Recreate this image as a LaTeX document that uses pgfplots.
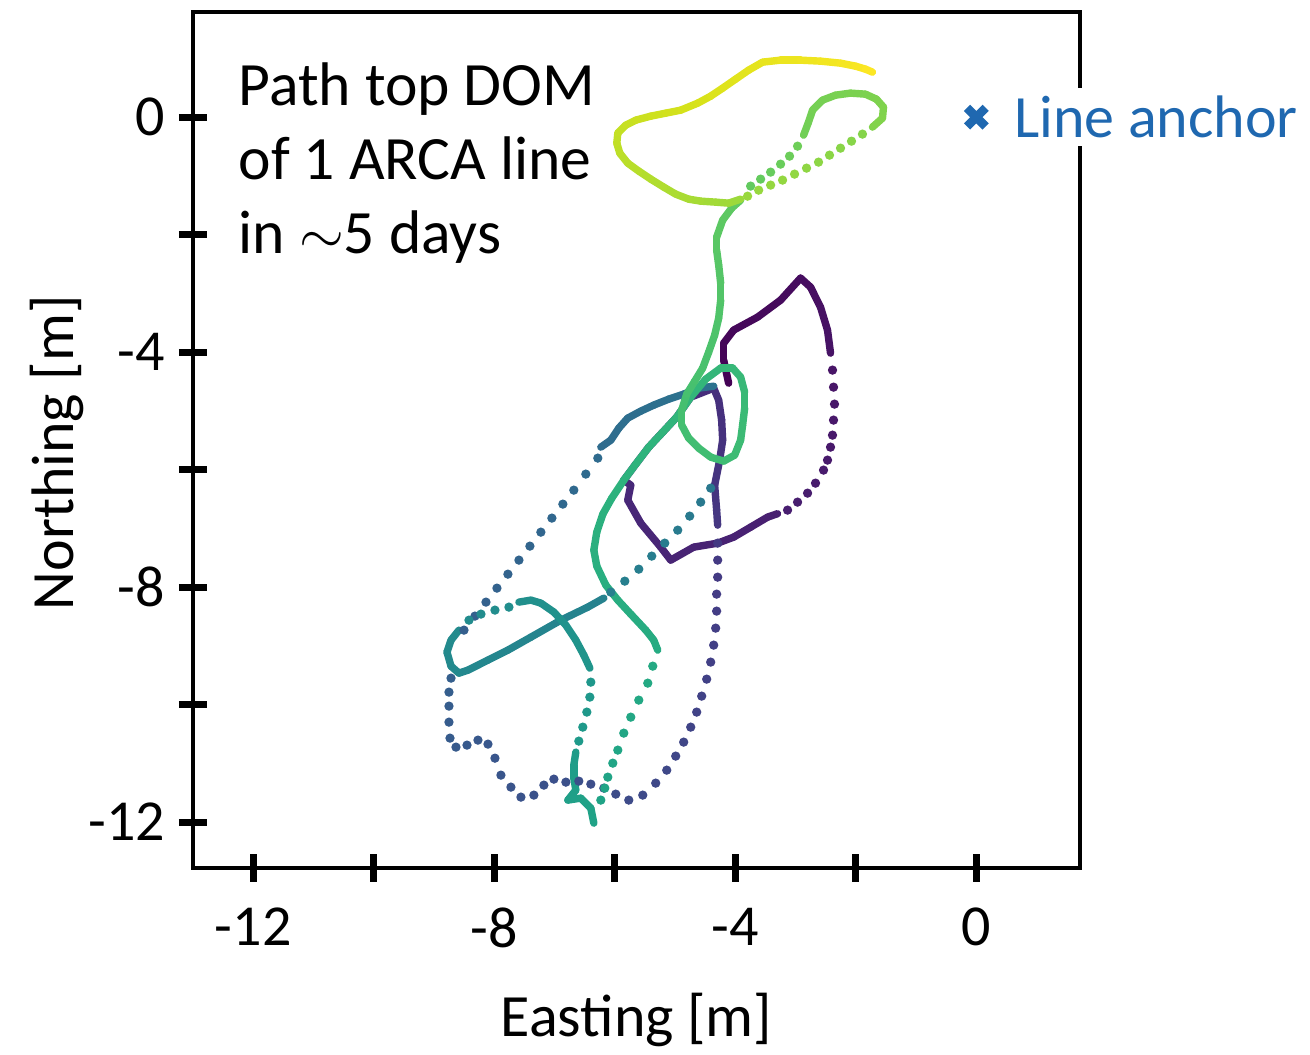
\documentclass[border=0pt]{standalone}
\usepackage{fontspec}
\setmainfont{Carlito}
\usepackage{pgfplots}
\pgfplotsset{compat=1.18}
\definecolor{ancblue}{RGB}{31,104,176}
\pgfplotsset{
  solidseg/.style={mesh, point meta=explicit, line width=1.85pt, line cap=round, line join=round, no markers},
  dotseg/.style={scatter, only marks, mark=*, mark size=0.95pt, point meta=explicit,
    scatter/use mapped color={draw=mapped color, fill=mapped color}},
}
\begin{document}
\begin{tikzpicture}
\begin{axis}[
  width=221.75pt, height=214pt, scale only axis,
  xmin=-13, xmax=1.72, ymin=-12.78, ymax=1.79,
  clip=false,
  colormap/viridis, point meta min=0, point meta max=1,
  axis line style={line width=1pt},
  tick pos=left, tick align=center, major tick length=7pt,
  tick style={line width=1.7pt, black},
  xtick={-12,-10,...,0}, xticklabels={-12,,-8,,-4,,0},
  ytick={-12,-10,...,0}, yticklabels={-12,,-8,,-4,,0},
  font=\fontsize{15}{18}\selectfont,
  tick label style={font=\fontsize{14.5}{17}\selectfont},
  xticklabel style={yshift=-3pt},
  xlabel={Easting [m]}, ylabel={Northing [m]},
  xlabel style={at={(axis description cs:0.5,-0.1776)}, anchor=center},
  ylabel style={at={(axis description cs:-0.1533,0.485)}, anchor=center},
]
% purple loop
\addplot[solidseg] table[meta=c] {
x y c
-4.111 -4.528 0.000
-4.193 -4.136 0.005
-4.193 -3.847 0.010
-4.028 -3.625 0.015
-3.630 -3.404 0.020
-3.249 -3.115 0.025
-2.917 -2.740 0.030
-2.751 -2.894 0.035
-2.586 -3.234 0.040
-2.470 -3.625 0.045
-2.420 -4.017 0.050
};
\addplot[dotseg] table[meta=c] {
x y c
-2.387 -4.306 0.053
-2.370 -4.596 0.056
-2.354 -4.885 0.058
-2.370 -5.157 0.061
-2.387 -5.413 0.064
-2.420 -5.617 0.066
-2.470 -5.838 0.069
-2.536 -6.008 0.072
-2.669 -6.230 0.074
-2.801 -6.400 0.077
-2.967 -6.553 0.079
-3.133 -6.689 0.082
};
\addplot[solidseg] table[meta=c] {
x y c
-3.300 -6.750 0.084
-3.464 -6.808 0.085
-3.746 -6.979 0.088
-4.028 -7.149 0.091
-4.293 -7.251 0.094
-4.691 -7.319 0.097
-5.072 -7.540 0.100
-5.238 -7.319 0.103
-5.569 -6.911 0.106
-5.785 -6.519 0.109
-5.735 -6.264 0.112
-5.851 -6.179 0.114
-5.652 -5.906 0.117
-5.437 -5.617 0.120
-5.205 -5.362 0.122
-4.973 -5.106 0.124
-4.740 -4.766 0.126
-4.359 -4.613 0.128
};
% down the east side, round the southern loop
\addplot[solidseg] table[meta=c] {
x y c
-4.359 -4.613 0.130
-4.276 -4.817 0.134
-4.227 -5.157 0.138
-4.210 -5.498 0.142
-4.260 -5.838 0.146
-4.343 -6.264 0.150
-4.310 -6.689 0.155
-4.293 -6.945 0.160
};
\addplot[dotseg] table[meta=c] {
x y c
-4.293 -7.251 0.165
-4.293 -7.540 0.168
-4.293 -7.830 0.172
-4.310 -8.119 0.175
-4.310 -8.408 0.179
-4.326 -8.698 0.182
-4.359 -8.987 0.186
-4.409 -9.276 0.189
-4.475 -9.566 0.193
-4.558 -9.855 0.196
-4.641 -10.127 0.200
-4.740 -10.383 0.203
-4.857 -10.638 0.207
-4.989 -10.876 0.210
-5.138 -11.115 0.214
-5.321 -11.336 0.217
-5.536 -11.540 0.221
-5.768 -11.625 0.224
-5.984 -11.523 0.228
-6.182 -11.421 0.231
-6.398 -11.353 0.235
-6.597 -11.302 0.238
-6.812 -11.319 0.242
-7.011 -11.268 0.245
-7.177 -11.370 0.249
-7.343 -11.540 0.252
-7.558 -11.574 0.256
-7.724 -11.404 0.259
-7.890 -11.200 0.263
-7.989 -10.911 0.266
-8.105 -10.672 0.270
-8.271 -10.604 0.273
-8.453 -10.689 0.277
-8.636 -10.723 0.280
-8.735 -10.570 0.284
-8.752 -10.298 0.287
-8.752 -10.025 0.291
-8.752 -9.787 0.294
-8.718 -9.549 0.298
};
% back up the western diagonal
\addplot[dotseg] table[meta=c] {
x y c
-8.503 -8.732 0.300
-8.321 -8.493 0.304
-8.138 -8.255 0.308
-7.956 -8.017 0.312
-7.774 -7.779 0.316
-7.591 -7.540 0.320
-7.409 -7.302 0.324
-7.227 -7.064 0.328
-7.044 -6.825 0.332
-6.862 -6.587 0.336
-6.680 -6.349 0.340
-6.481 -6.076 0.344
-6.282 -5.804 0.348
};
\addplot[solidseg] table[meta=c] {
x y c
-6.232 -5.617 0.350
-6.066 -5.498 0.353
-5.934 -5.294 0.356
-5.785 -5.123 0.359
-5.569 -5.004 0.362
-5.354 -4.902 0.365
-5.105 -4.800 0.368
-4.857 -4.715 0.371
-4.608 -4.613 0.374
-4.359 -4.579 0.377
};
% second diagonal, teal
\addplot[dotseg] table[meta=c] {
x y c
-4.409 -6.315 0.400
-4.575 -6.553 0.404
-4.757 -6.791 0.408
-4.956 -7.030 0.412
-5.171 -7.251 0.416
-5.387 -7.472 0.420
-5.602 -7.694 0.424
-5.834 -7.898 0.428
-6.066 -8.085 0.432
};
\addplot[solidseg] table[meta=c] {
x y c
-6.182 -8.187 0.440
-6.448 -8.340 0.444
-6.895 -8.562 0.448
-7.392 -8.851 0.452
-7.774 -9.072 0.456
-8.105 -9.242 0.460
-8.437 -9.413 0.464
-8.586 -9.464 0.467
-8.718 -9.345 0.470
-8.785 -9.106 0.473
-8.718 -8.902 0.476
-8.586 -8.732 0.479
};
\addplot[dotseg] table[meta=c] {
x y c
-8.420 -8.562 0.482
-8.221 -8.459 0.485
-7.989 -8.391 0.488
-7.757 -8.340 0.491
};
\addplot[solidseg] table[meta=c] {
x y c
-7.591 -8.255 0.495
-7.392 -8.221 0.499
-7.227 -8.272 0.503
-7.011 -8.425 0.507
-6.812 -8.647 0.511
-6.647 -8.902 0.515
-6.514 -9.157 0.519
-6.414 -9.378 0.523
};
\addplot[dotseg] table[meta=c] {
x y c
-6.398 -9.617 0.527
-6.414 -9.872 0.531
-6.464 -10.127 0.535
-6.531 -10.383 0.539
-6.597 -10.621 0.543
};
\addplot[solidseg] table[meta=c] {
x y c
-6.647 -10.808 0.547
-6.680 -11.030 0.551
-6.680 -11.251 0.555
-6.647 -11.455 0.559
-6.779 -11.625 0.563
-6.564 -11.591 0.567
-6.398 -11.761 0.571
-6.348 -12.017 0.575
};
% green strand north
\addplot[dotseg] table[meta=c] {
x y c
-6.232 -11.625 0.579
-6.166 -11.421 0.582
-6.116 -11.234 0.585
-6.033 -10.996 0.588
-5.950 -10.774 0.591
-5.851 -10.485 0.594
-5.735 -10.213 0.597
-5.602 -9.923 0.600
-5.453 -9.634 0.603
-5.370 -9.345 0.606
};
\addplot[solidseg] table[meta=c] {
x y c
-5.287 -9.072 0.610
-5.354 -8.902 0.613
-5.486 -8.732 0.616
-5.735 -8.459 0.619
-5.950 -8.221 0.622
-6.149 -7.966 0.625
-6.299 -7.642 0.628
-6.348 -7.370 0.631
-6.299 -7.064 0.634
-6.199 -6.757 0.637
-6.050 -6.485 0.640
-5.851 -6.179 0.643
-5.652 -5.906 0.646
-5.437 -5.617 0.649
-5.205 -5.362 0.652
-4.973 -5.106 0.655
-4.740 -4.766 0.658
-4.492 -4.460 0.661
-4.243 -4.272 0.664
-4.044 -4.272 0.667
-3.912 -4.425 0.670
-3.845 -4.681 0.673
-3.845 -4.953 0.676
-3.879 -5.242 0.679
-3.912 -5.498 0.682
-4.011 -5.753 0.685
-4.193 -5.855 0.688
-4.409 -5.787 0.691
-4.608 -5.634 0.694
-4.774 -5.464 0.697
-4.890 -5.242 0.700
-4.890 -4.987 0.703
-4.807 -4.715 0.706
-4.674 -4.494 0.709
-4.542 -4.272 0.712
-4.442 -4.000 0.716
-4.343 -3.711 0.720
-4.276 -3.421 0.724
-4.243 -3.115 0.728
-4.243 -2.826 0.732
-4.276 -2.519 0.736
-4.310 -2.264 0.740
-4.310 -2.043 0.744
-4.210 -1.753 0.748
-4.061 -1.549 0.752
-3.912 -1.413 0.756
};
% north-east loop
\addplot[dotseg] table[meta=c] {
x y c
-3.746 -1.174 0.760
-3.580 -1.055 0.764
-3.414 -0.936 0.768
-3.249 -0.800 0.772
-3.100 -0.664 0.776
-2.967 -0.494 0.780
};
\addplot[solidseg] table[meta=c] {
x y c
-2.867 -0.306 0.784
-2.785 -0.085 0.787
-2.718 0.119 0.790
-2.553 0.289 0.793
-2.337 0.374 0.796
-2.088 0.409 0.799
-1.840 0.391 0.802
-1.658 0.306 0.805
-1.541 0.170 0.808
-1.558 -0.017 0.811
-1.724 -0.170 0.814
};
\addplot[dotseg] table[meta=c] {
x y c
-1.890 -0.289 0.818
-2.072 -0.409 0.821
-2.254 -0.528 0.824
-2.437 -0.647 0.827
-2.619 -0.766 0.830
-2.818 -0.868 0.833
-3.017 -0.970 0.836
-3.216 -1.072 0.839
-3.414 -1.157 0.842
-3.613 -1.243 0.845
-3.796 -1.345 0.848
};
% last day, yellow
\addplot[solidseg] table[meta=c] {
x y c
-3.912 -1.396 0.850
-4.111 -1.464 0.855
-4.326 -1.447 0.860
-4.575 -1.430 0.865
-4.774 -1.396 0.870
-4.989 -1.311 0.875
-5.188 -1.191 0.880
-5.403 -1.055 0.885
-5.602 -0.919 0.890
-5.785 -0.783 0.895
-5.917 -0.613 0.900
-5.967 -0.443 0.905
-5.950 -0.272 0.910
-5.818 -0.136 0.915
-5.652 -0.051 0.920
-5.403 0.017 0.925
-5.155 0.068 0.930
-4.906 0.119 0.935
-4.624 0.238 0.940
-4.409 0.357 0.945
-4.210 0.494 0.950
-3.995 0.647 0.955
-3.779 0.800 0.960
-3.547 0.936 0.965
-3.249 0.970 0.970
-2.917 0.970 0.975
-2.586 0.953 0.980
-2.254 0.919 0.985
-2.006 0.868 0.990
-1.840 0.817 0.995
-1.724 0.766 1.000
};
% anchor of the line
\addplot[only marks, mark=x, mark size=3.3pt, mark options={line width=2.2pt, color=ancblue}] coordinates {(0,0)};
\node[anchor=north west, align=left, inner sep=0pt, font=\fontsize{15.4}{18.5}\selectfont]
  at (rel axis cs:0.0507,0.9416) {Path top DOM\\of 1 ARCA line\\in $\sim$5 days};
\coordinate (anc) at (axis cs:0,0);
\coordinate (sw) at (rel axis cs:0,0);
\coordinate (ne) at (rel axis cs:1,1);
\end{axis}
\node[anchor=west, fill=white, text=ancblue, inner sep=2pt, font=\fontsize{15}{18}\selectfont]
  at ([xshift=7.25pt]anc) {Line anchor};
\pgfresetboundingbox
\path[use as bounding box] ([xshift=-48.25pt,yshift=-46.75pt]sw) rectangle ([xshift=57.5pt,yshift=3pt]ne);
\end{tikzpicture}
\end{document}
